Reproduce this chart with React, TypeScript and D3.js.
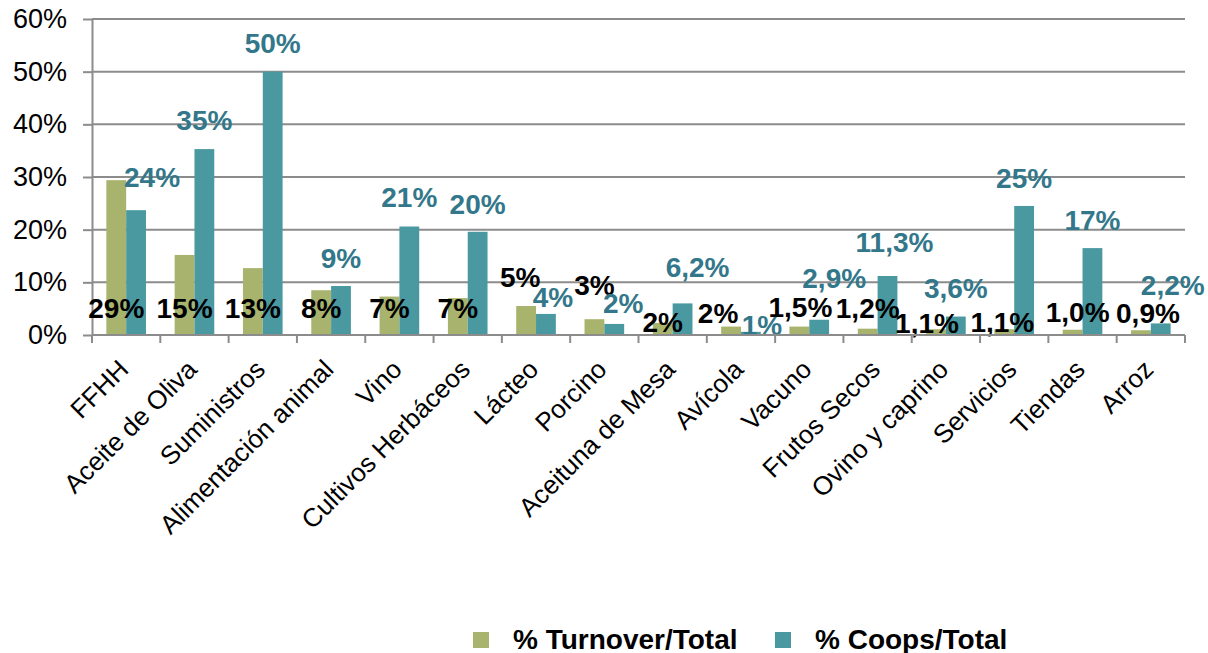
import { useEffect, useRef } from "react";
import * as d3 from "d3";

// Values (percent)
const categories = [
  "FFHH",
  "Aceite de Oliva",
  "Suministros",
  "Alimentación animal",
  "Vino",
  "Cultivos Herbáceos",
  "Lácteo",
  "Porcino",
  "Aceituna de Mesa",
  "Avícola",
  "Vacuno",
  "Frutos Secos",
  "Ovino y caprino",
  "Servicios",
  "Tiendas",
  "Arroz",
];

const turnover = [29.4, 15.2, 12.7, 8.5, 7.3, 7.0, 5.5, 3.0, 2.3, 1.6, 1.6, 1.2, 1.1, 1.1, 1.0, 0.9];
const coops = [23.7, 35.3, 50.0, 9.3, 20.6, 19.6, 4.0, 2.1, 6.0, 0.6, 2.9, 11.2, 3.5, 24.5, 16.5, 2.2];

const turnoverLabels = ["29%", "15%", "13%", "8%", "7%", "7%", "5%", "3%", "2%", "2%", "1,5%", "1,2%", "1,1%", "1,1%", "1,0%", "0,9%"];
const coopsLabels = ["24%", "35%", "50%", "9%", "21%", "20%", "4%", "2%", "6,2%", "1%", "2,9%", "11,3%", "3,6%", "25%", "17%", "2,2%"];

const yTicks = [0, 10, 20, 30, 40, 50, 60];

// hand-moved data labels in the original (px nudges from default spot)
const turnoverNudgeX = [0, 0, 0, 0, 0, 0, -6, 0, 0, -13, 1, 0, -9, -2, 5, 7];
const turnoverNudgeY = [0, 0, 0, 0, 0, 0, -31, -23, 14, 5, -1, 0, 15, 14, 4, 5];
const coopsNudgeX = [16, 0, 0, 0, 0, 0, 7, 9, 15, 11, 15, 7, 0, 0, 0, 12];
const coopsNudgeY = [-5, -1, -1, 0, -2, 0, 11, 7, -8, 21, -14, -6, -1, 0, 0, -10];

const W = 1208;
const H = 653;
const PLOT = { left: 92, right: 1185, top: 19, bottom: 335 };

const OLIVE = "#a8b36d";
const TEAL = "#4a99a0";
const TEAL_TEXT = "#33778a";
const GRID = "#8c8c8c";
const FONT = "'Liberation Sans', Arial, sans-serif";

export default function App() {
  const svgRef = useRef<SVGSVGElement>(null);

  useEffect(() => {
    if (!svgRef.current) return;
    const svg = d3.select(svgRef.current);
    svg.selectAll("*").remove();

    const x = d3.scaleBand<string>().domain(categories).range([PLOT.left, PLOT.right]).padding(0);
    const y = d3.scaleLinear().domain([0, 60]).range([PLOT.bottom, PLOT.top]);
    const step = x.bandwidth();
    const barW = step * 0.29;

    // gridlines
    svg
      .append("g")
      .selectAll("line")
      .data(yTicks.filter((t) => t > 0))
      .join("line")
      .attr("x1", PLOT.left)
      .attr("x2", PLOT.right)
      .attr("y1", (d) => y(d))
      .attr("y2", (d) => y(d))
      .attr("stroke", GRID)
      .attr("stroke-width", 2);

    // y axis
    const yAxis = svg
      .append("g")
      .attr("transform", `translate(${PLOT.left},0)`)
      .call(
        d3
          .axisLeft(y)
          .tickValues(yTicks)
          .tickFormat((d) => `${d}%`)
          .tickSizeInner(9)
          .tickSizeOuter(0)
          .tickPadding(16)
      );
    yAxis.selectAll("text").attr("font-family", FONT).attr("font-size", 27).attr("fill", "#000");
    yAxis.selectAll("line").attr("stroke", GRID).attr("stroke-width", 2);
    yAxis.select(".domain").attr("stroke", GRID).attr("stroke-width", 2);

    // bars
    const groups = svg
      .append("g")
      .selectAll("g")
      .data(categories)
      .join("g")
      .attr("transform", (d) => `translate(${(x(d) ?? 0) + step / 2},0)`);

    groups
      .append("rect")
      .attr("x", -barW)
      .attr("width", barW)
      .attr("y", (_, i) => y(turnover[i]))
      .attr("height", (_, i) => y(0) - y(turnover[i]))
      .attr("fill", OLIVE);

    groups
      .append("rect")
      .attr("x", 0)
      .attr("width", barW)
      .attr("y", (_, i) => y(coops[i]))
      .attr("height", (_, i) => y(0) - y(coops[i]))
      .attr("fill", TEAL);

    // x axis line + ticks at band edges
    svg
      .append("line")
      .attr("x1", PLOT.left)
      .attr("x2", PLOT.right)
      .attr("y1", y(0))
      .attr("y2", y(0))
      .attr("stroke", GRID)
      .attr("stroke-width", 2);

    const edges = categories.map((c) => x(c) ?? 0).concat([PLOT.right]);
    svg
      .append("g")
      .selectAll("line")
      .data(edges)
      .join("line")
      .attr("x1", (d) => d)
      .attr("x2", (d) => d)
      .attr("y1", y(0))
      .attr("y2", y(0) + 8)
      .attr("stroke", GRID)
      .attr("stroke-width", 2);

    // category labels
    svg
      .append("g")
      .selectAll("text")
      .data(categories)
      .join("text")
      .attr("transform", (d) => `translate(${(x(d) ?? 0) + step / 2 + 4},371) rotate(-45)`)
      .attr("text-anchor", "end")
      .attr("font-family", FONT)
      .attr("font-size", 26)
      .attr("fill", "#000")
      .text((d) => d);

    // data labels
    groups
      .append("text")
      .attr("x", (_, i) => -barW / 2 + turnoverNudgeX[i])
      .attr("y", (_, i) => 308 + turnoverNudgeY[i])
      .attr("dy", "0.36em")
      .attr("text-anchor", "middle")
      .attr("font-family", FONT)
      .attr("font-weight", "bold")
      .attr("font-size", 28)
      .attr("fill", "#000")
      .text((_, i) => turnoverLabels[i]);

    groups
      .append("text")
      .attr("x", (_, i) => barW / 2 + coopsNudgeX[i])
      .attr("y", (_, i) => y(coops[i]) - 28 + coopsNudgeY[i])
      .attr("dy", "0.36em")
      .attr("text-anchor", "middle")
      .attr("font-family", FONT)
      .attr("font-weight", "bold")
      .attr("font-size", 28)
      .attr("fill", TEAL_TEXT)
      .text((_, i) => coopsLabels[i]);

    // legend
    const legend = [
      { label: "% Turnover/Total", color: OLIVE, x: 473 },
      { label: "% Coops/Total", color: TEAL, x: 775 },
    ];
    const lg = svg
      .append("g")
      .selectAll("g")
      .data(legend)
      .join("g")
      .attr("transform", (d) => `translate(${d.x},640)`);
    lg.append("rect").attr("x", 0).attr("y", -8).attr("width", 16).attr("height", 16).attr("fill", (d) => d.color);
    lg.append("text")
      .attr("x", 40)
      .attr("y", 9)
      .attr("font-family", FONT)
      .attr("font-weight", "bold")
      .attr("font-size", 28)
      .attr("fill", "#000")
      .text((d) => d.label);
  }, []);

  return (
    <svg
      ref={svgRef}
      width={W}
      height={H}
      style={{ position: "absolute", left: 0, top: 0, background: "#fff" }}
    />
  );
}
